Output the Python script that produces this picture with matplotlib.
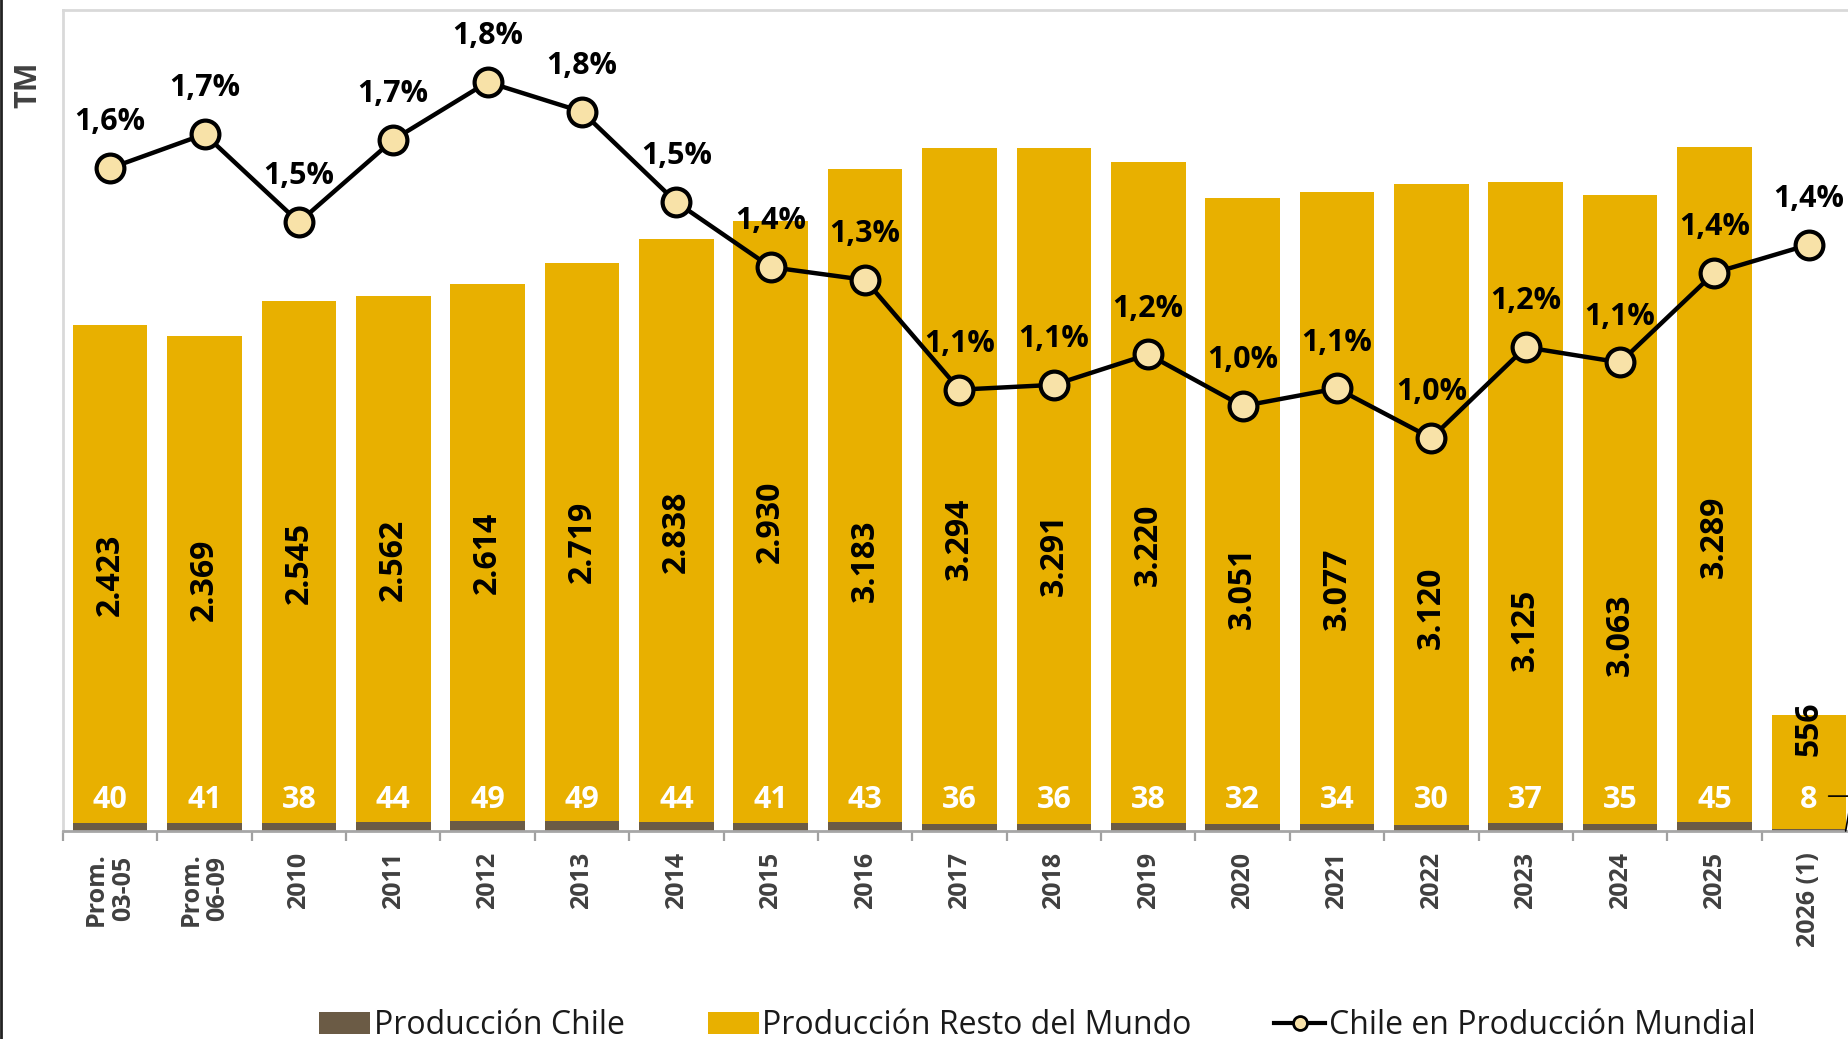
import numpy as np
import matplotlib
matplotlib.use("Agg")
import matplotlib.pyplot as plt
from matplotlib.patches import Patch
from matplotlib.lines import Line2D

plt.rcParams['font.family'] = ['Open Sans', 'DejaVu Sans']

categories = ["Prom.\n03-05", "Prom.\n06-09", "2010", "2011", "2012", "2013", "2014",
              "2015", "2016", "2017", "2018", "2019", "2020", "2021", "2022", "2023",
              "2024", "2025", "2026 (1)"]
chile = [40, 41, 38, 44, 49, 49, 44, 41, 43, 36, 36, 38, 32, 34, 30, 37, 35, 45, 8]
rest = [2423, 2369, 2545, 2562, 2614, 2719, 2838, 2930, 3183, 3294, 3291, 3220,
        3051, 3077, 3120, 3125, 3063, 3289, 556]
share = [1.625, 1.71, 1.49, 1.696, 1.84, 1.766, 1.54, 1.378, 1.346, 1.072, 1.084,
         1.16, 1.031, 1.075, 0.951, 1.178, 1.14, 1.364, 1.434]
# vertical placement (in TM) of the rotated "rest of world" labels, as in the source chart
rest_label_pos = [1247, 1224, 1307, 1323, 1353, 1409, 1460, 1507, 1317, 1424, 1348,
                  1393, 1184, 1180, 1085, 982, 955, 1434, None]

GOLD = '#E8B000'
BROWN = '#6B5B45'
MFACE = '#F8E2A8'
DARK = '#404040'

W, H = 1849, 1039
fig = plt.figure(figsize=(W / 100, H / 100), dpi=100)
ax = fig.add_axes([63 / W, 1 - 831 / H, (1856 - 63) / W, (831 - 10) / H])

x = np.arange(len(categories))
ax.bar(x, chile, width=0.79, color=BROWN, zorder=2)
ax.bar(x, rest, bottom=chile, width=0.79, color=GOLD, zorder=2)
ax.set_xlim(-0.5, len(categories) - 0.5)
ax.set_ylim(0, 4000)

# value labels
for i, (c, r) in enumerate(zip(chile, rest)):
    ax.annotate(str(c), (i, 0), xytext=(0, 22), textcoords='offset points',
                ha='center', va='center', color='white', fontsize=22,
                fontweight='bold', zorder=5)
    lab = f"{r:,}".replace(',', '.')
    if rest_label_pos[i] is None:
        ax.annotate(lab, (i, c + r), xytext=(0, 10), textcoords='offset points',
                    ha='center', va='top', rotation=90, color='black',
                    fontsize=23, fontweight='bold', zorder=5)
        ax.annotate('', xy=(i + 0.39, 0), xytext=(i + 0.21, 170),
                    arrowprops=dict(arrowstyle='-', color='black', lw=1.2,
                                    shrinkA=0, shrinkB=0,
                                    connectionstyle='angle,angleA=0,angleB=80,rad=0'),
                    zorder=5)
    else:
        ax.text(i, rest_label_pos[i], lab, ha='center', va='center', rotation=90,
                color='black', fontsize=23, fontweight='bold', zorder=5)

# axes styling
ax.set_xticks(x)
ax.set_xticklabels(categories, rotation=90, fontsize=18, fontweight='bold',
                   color=DARK, va='top', ha='center', linespacing=1.1)
ax.tick_params(axis='x', which='major', length=0, pad=15)
ax.set_xticks(np.arange(-0.5, len(categories), 1), minor=True)
ax.tick_params(axis='x', which='minor', length=7, width=1.6, color='#A0A0A0',
               direction='out')
ax.set_yticks([])
for s in ['top', 'left']:
    ax.spines[s].set_color('#D9D9D9')
    ax.spines[s].set_linewidth(2)
ax.spines['bottom'].set_color('#A6A6A6')
ax.spines['bottom'].set_linewidth(2)
ax.spines['right'].set_visible(False)

ax2 = ax.twinx()
ax2.plot(x, share, color='black', lw=3.2, marker='o', ms=20, mfc=MFACE,
         mec='black', mew=3, zorder=6)
ax2.set_ylim(-0.03, 2.02)
ax2.set_yticks([])
for s in ax2.spines.values():
    s.set_visible(False)
for i, v in enumerate(share):
    ax2.annotate(f"{v:.1f}%".replace('.', ','), (i, v), xytext=(0, 33),
                 textcoords='offset points', ha='center', va='center',
                 fontsize=22, fontweight='bold', color='black', zorder=7)

fig.text(28 / W, 1 - 85 / H, 'TM', rotation=90, ha='center', va='center',
         fontsize=22, fontweight='bold', color=DARK)

handles = [Patch(facecolor=BROWN, edgecolor='none'),
           Patch(facecolor=GOLD, edgecolor='none'),
           Line2D([0], [0], color='black', lw=3, marker='o', ms=10, mfc=MFACE,
                  mec='black', mew=2)]
labels = ['Producción Chile', 'Producción Resto del Mundo', 'Chile en Producción Mundial']
fig.legend(handles, labels, loc='center', bbox_to_anchor=(0.561, 0.013), ncol=3,
           frameon=False, fontsize=23, handlelength=1.6, handleheight=0.66,
           handletextpad=0.1, columnspacing=2.6, labelcolor='#1a1a1a')

fig.add_artist(Line2D([0.0008, 0.0008], [0, 1], color='#222222', lw=2,
                      transform=fig.transFigure))

fig.savefig('out.png', dpi=100)
